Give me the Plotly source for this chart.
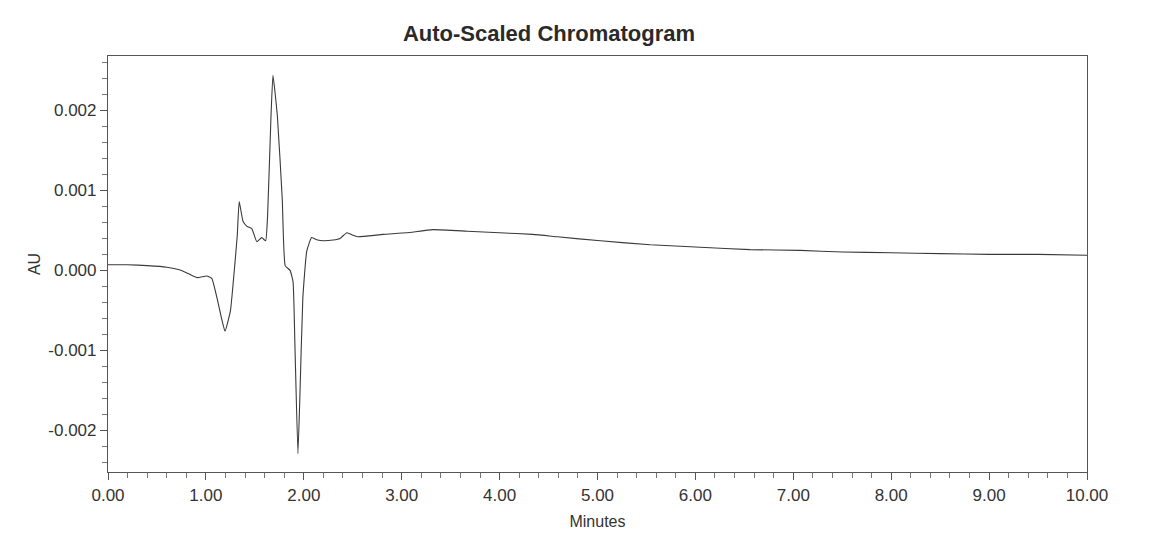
import plotly.graph_objects as go

# Retention time (minutes)
minutes = [0.00, 0.20, 0.40, 0.60, 0.75, 0.82, 0.91, 1.01, 1.06, 1.12, 1.16, 1.195,
           1.25, 1.28, 1.32, 1.34, 1.38, 1.42, 1.47, 1.52, 1.57, 1.61, 1.63, 1.665,
           1.685, 1.73, 1.78, 1.81, 1.86, 1.89, 1.91, 1.94, 1.96, 1.99, 2.03, 2.08,
           2.14, 2.20, 2.30, 2.37, 2.44, 2.50, 2.55, 2.81, 3.05, 3.32, 3.67, 4.00,
           4.34, 4.59, 5.03, 5.54, 6.05, 6.56, 7.07, 7.50, 8.00, 8.50, 9.00, 9.50, 10.00]

# Absorbance (AU)
au = [0.00007, 0.00007, 0.00006, 0.00004, 0.00000, -0.00004, -0.00009, -0.00007, -0.00010, -0.00038, -0.00060, -0.00076,
      -0.00051, -0.00014, 0.00043, 0.00086, 0.00061, 0.00055, 0.00052, 0.00036, 0.00041, 0.00037, 0.00068, 0.00193,
      0.00244, 0.00193, 0.00089, 0.00006, 0.00000, -0.00014, -0.00097, -0.00229, -0.00158, -0.00035, 0.00024, 0.00041,
      0.00038, 0.00037, 0.00038, 0.00040, 0.00047, 0.00044, 0.00042, 0.00045, 0.00047, 0.00051, 0.00049, 0.00047,
      0.00045, 0.00042, 0.00037, 0.00032, 0.00029, 0.00026, 0.00025, 0.00023, 0.00022, 0.00021, 0.00020, 0.00020, 0.00019]

x_tickvals = [0, 1, 2, 3, 4, 5, 6, 7, 8, 9, 10]
x_ticktext = ["0.00", "1.00", "2.00", "3.00", "4.00", "5.00", "6.00", "7.00", "8.00", "9.00", "10.00"]
y_tickvals = [-0.002, -0.001, 0.0, 0.001, 0.002]
y_ticktext = ["-0.002", "-0.001", "0.000", "0.001", "0.002"]

font_family = "Liberation Sans, Arial, sans-serif"

fig = go.Figure()
fig.add_trace(go.Scatter(x=minutes, y=au, mode="lines",
                         line=dict(color="#3a3a3a", width=1.1, shape="spline", smoothing=0.4),
                         hoverinfo="x+y", showlegend=False))

fig.update_layout(
    width=1156, height=532,
    margin=dict(l=100, r=77, t=48, b=65),
    paper_bgcolor="white", plot_bgcolor="white",
    font=dict(family=font_family, size=17, color="#333333"),
    title=dict(text="<b>Auto-Scaled Chromatogram</b>", x=0.468, xanchor="center",
               y=0.953, yanchor="middle", font=dict(size=22, color="#2a2a2a")),
)

fig.update_xaxes(
    range=[0, 10], tickvals=x_tickvals, ticktext=x_ticktext,
    showgrid=False, zeroline=False,
    showline=True, linecolor="#555555", linewidth=1.2, mirror=True,
    ticks="outside", ticklen=7, tickcolor="#555555", tickwidth=1,
    minor=dict(dtick=0.2, ticks="outside", ticklen=5, tickcolor="#777777", tickwidth=1, showgrid=False),
    tickfont=dict(size=17, color="#333333"),
    title=dict(text="Minutes", font=dict(size=16, color="#333333"), standoff=12),
)
fig.update_yaxes(
    range=[-0.00252, 0.00268], tickvals=y_tickvals, ticktext=y_ticktext,
    showgrid=False, zeroline=False,
    showline=True, linecolor="#555555", linewidth=1.2, mirror=True,
    ticks="outside", ticklen=7, tickcolor="#555555", tickwidth=1,
    minor=dict(dtick=0.0002, tick0=0, ticks="outside", ticklen=5, tickcolor="#777777", tickwidth=1, showgrid=False),
    tickfont=dict(size=17, color="#333333"),
    title=dict(text="AU", font=dict(size=16, color="#333333"), standoff=3),
)

fig.write_html("out.html")
